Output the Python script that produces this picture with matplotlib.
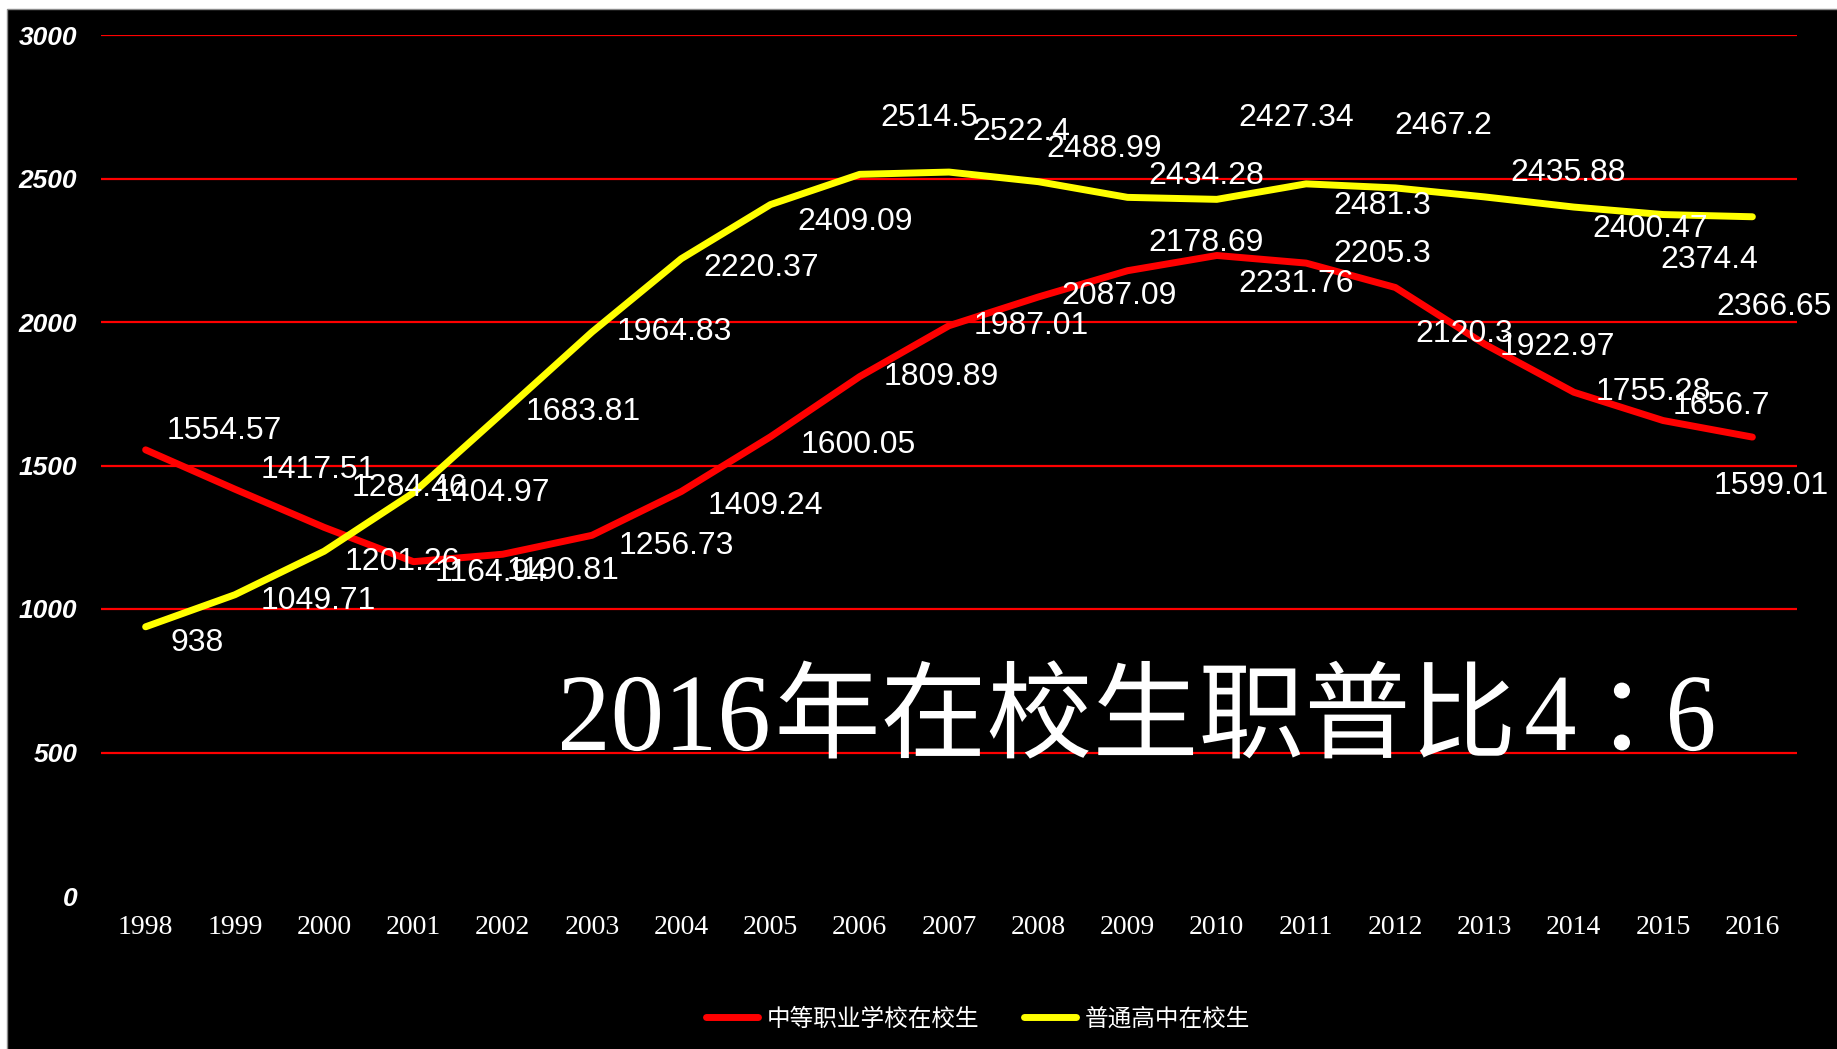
import numpy as np
import matplotlib
matplotlib.use("Agg")
import matplotlib.pyplot as plt
from matplotlib.textpath import TextPath
from matplotlib.patches import PathPatch, Rectangle
from matplotlib.font_manager import FontProperties
from matplotlib.transforms import Affine2D

# data (万人)
years = ["1998", "1999", "2000", "2001", "2002", "2003", "2004", "2005", "2006", "2007",
         "2008", "2009", "2010", "2011", "2012", "2013", "2014", "2015", "2016"]
vocational = [1554.57, 1417.51, 1284.46, 1164.94, 1190.81, 1256.73, 1409.24, 1600.05, 1809.89, 1987.01,
              2087.09, 2178.69, 2231.76, 2205.3, 2120.3, 1922.97, 1755.28, 1656.7, 1599.01]
general = [938, 1049.71, 1201.26, 1404.97, 1683.81, 1964.83, 2220.37, 2409.09, 2514.5, 2522.4,
           2488.99, 2434.28, 2427.34, 2481.3, 2467.2, 2435.88, 2400.47, 2374.4, 2366.65]
vocational_name = "中等职业学校在校生"
general_name = "普通高中在校生"
headline = ["2016", "年在校生职普比", "4", "：", "6"]

# where each data label sits relative to its point (category units, value units)
voc_dx = [0.88, 0.93, 0.95, 0.87, 0.68, 0.95, 0.94, 0.98, 0.91, 0.92,
          0.90, 0.88, 0.89, 0.85, 0.77, 0.81, 0.89, 0.65, 0.21]
voc_dy = [66, 66, 138, -40, -60, -37, -50, -29, -2, 0,
          3, 95, -101, 32, -161, -9, 0, 49, -170]
gen_dx = [0.58, 0.93, 0.88, 0.89, 0.90, 0.92, 0.90, 0.95, 0.78, 0.81,
          0.74, 0.88, 0.89, 0.85, 0.54, 0.94, 0.86, 0.52, 0.24]
gen_dy = [-57, -22, -37, 0, 2, 2, -32, -62, 196, 139,
          115, 76, 283, -77, 215, 82, -78, -158, -314]

W, H = 1837, 1049
fig = plt.figure(figsize=(W / 100, H / 100), dpi=100, facecolor="white")
fig.patches.append(Rectangle((7 / W, -0.01), 1.1, 1.01 - 9 / H, transform=fig.transFigure,
                             facecolor="black", edgecolor="#8c8c8c", lw=1, zorder=-10))

ax = fig.add_axes([101 / W, 153 / H, 1696 / W, 861 / H])
ax.set_facecolor("black")
x = np.arange(len(years))

ax.plot(x, vocational, color="#FF0000", lw=5, solid_capstyle="round",
        solid_joinstyle="round", label=vocational_name, zorder=3)
ax.plot(x, general, color="#FFFF00", lw=5, solid_capstyle="round",
        solid_joinstyle="round", label=general_name, zorder=3)

lab_font = dict(family="Liberation Sans", size=23, color="white", ha="center", va="center",
                zorder=5, clip_on=False)
for i in range(len(years)):
    ax.text(x[i] + voc_dx[i], vocational[i] + voc_dy[i], f"{vocational[i]:g}", **lab_font)
    ax.text(x[i] + gen_dx[i], general[i] + gen_dy[i], f"{general[i]:g}", **lab_font)

ax.set_xlim(-0.5, 18.5)
ax.set_ylim(0, 3000)
ax.set_xticks(x)
ax.set_xticklabels(years, family="Liberation Serif", size=20, color="white")
ax.set_yticks(range(0, 3001, 500))
ax.set_yticklabels([str(v) for v in range(0, 3001, 500)], family="Liberation Sans",
                   weight="bold", style="italic", size=19, color="white")
ax.tick_params(length=0)
ax.tick_params(axis="x", pad=14)
ax.tick_params(axis="y", pad=17)
ax.grid(axis="y", color="#FF0000", lw=1.6, zorder=1)
ax.yaxis.get_gridlines()[0].set_visible(False)
for s in ax.spines.values():
    s.set_visible(False)

leg = fig.legend(loc="center", bbox_to_anchor=(978 / W, 1 - 1019 / H), ncol=2, frameon=False,
                 prop=FontProperties(family=["Noto Sans CJK SC", "DejaVu Sans"], size=17),
                 handlelength=2.2, handletextpad=0.35, columnspacing=1.9)
for t in leg.get_texts():
    t.set_color("white")
for h in leg.get_lines():
    h.set_linewidth(5)
    h.set_solid_capstyle("round")

# big headline, drawn as paths in pixel space
serif = FontProperties(family="Liberation Serif")
cjk = FontProperties(family="Noto Sans CJK SC", weight="medium")
styles = [(serif, 110, 0.97), (cjk, 106, 1.0), (serif, 110, 0.95), (cjk, 106, 1.0), (serif, 110, 0.92)]
gaps = [0, 12, 16, 39, 40]
cursor = 562
base = H - 750
for piece, (fp, em, sx), gap in zip(headline, styles, gaps):
    tp = TextPath((0, 0), piece, size=100, prop=fp)
    ext = tp.get_extents()
    k = em / 100
    tr = Affine2D().translate(-ext.x0, 0).scale(k * sx, k).translate(cursor + gap, base)
    fig.add_artist(PathPatch(tp, transform=tr, facecolor="white", edgecolor="none", zorder=6))
    cursor = cursor + gap + ext.width * k * sx

fig.savefig("out.png", dpi=100, facecolor=fig.get_facecolor())
